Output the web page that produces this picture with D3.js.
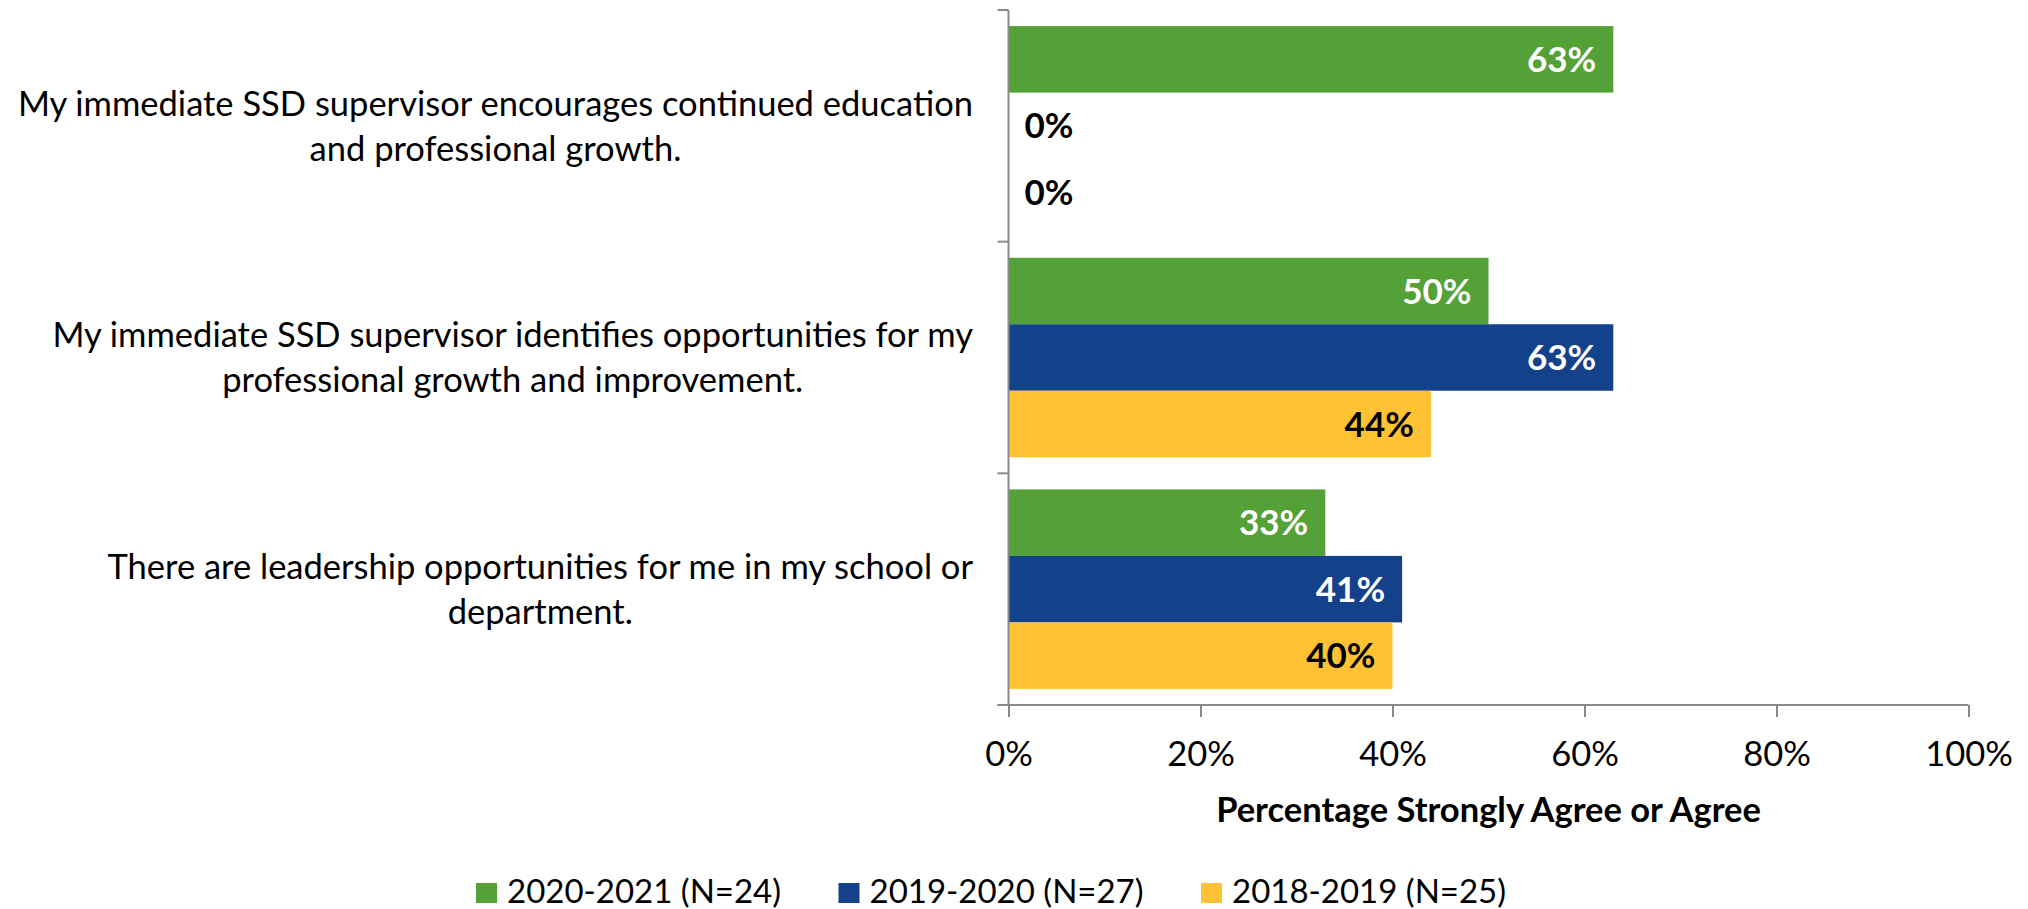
<!DOCTYPE html>
<html lang="en">
    <head>
        <meta charset="utf-8">
        <title>Professional Growth</title>
        <script src="https://d3js.org/d3.v7.min.js"></script>
        <style type="text/css">
                body {
                    margin: 0;
                    background: #fff;
                }
                text {
                    font-family: Lato, "Open Sans", sans-serif;
                    fill: #000;
                }
                .axis line,
                .axis path {
                    stroke: #898989;
                    stroke-width: 2;
                    fill: none;
                }
                .axis text {
                    font-size: 34.5px;
                }
         </style>
    </head>
    <body>
        <script type="text/javascript">
        var w = 2028;
        var h = 909;

        // questions, top to bottom (\n = where the original wraps)
        var categories = [
            "My immediate SSD supervisor encourages continued education\nand professional growth.",
            "My immediate SSD supervisor identifies opportunities for my\nprofessional growth and improvement.",
            "There are leadership opportunities for me in my school or\ndepartment."
        ];
        var seriesNames = ["2020-2021 (N=24)", "2019-2020 (N=27)", "2018-2019 (N=25)"];
        var seriesColors = ["#54A138", "#13418A", "#FFC232"];
        var labelColors = ["#fff", "#fff", "#000"];
        var values2021 = [0.63, 0.50, 0.33];
        var values2020 = [0.00, 0.63, 0.41];
        var values2019 = [0.00, 0.44, 0.40];
        var xTicks = [0, 0.2, 0.4, 0.6, 0.8, 1];

        var allValues = [values2021, values2020, values2019];

        var svg = d3.select("body")
                .append("svg")
                .attr("width", w)
                .attr("height", h);

        svg.append("rect").attr("width", w).attr("height", h).attr("fill", "#fff");

        var x = d3.scaleLinear().domain([0, 1]).range([1008.5, 1968.5]);
        var y0 = d3.scaleBand().domain(d3.range(categories.length)).range([10, 705]).padding(0);
        var y1 = d3.scaleBand().domain(d3.range(seriesNames.length))
                .range([0, y0.bandwidth()]).paddingInner(0).paddingOuter(0.242);

        // bars
        var rows = [];
        categories.forEach(function(c, ci) {
            allValues.forEach(function(vals, si) {
                rows.push({ci: ci, si: si, v: vals[ci]});
            });
        });

        svg.selectAll("rect.bar")
            .data(rows)
            .enter()
            .append("rect")
            .attr("class", "bar")
            .attr("x", x(0))
            .attr("y", function(d) { return y0(d.ci) + y1(d.si); })
            .attr("width", function(d) { return x(d.v) - x(0); })
            .attr("height", y1.bandwidth())
            .attr("fill", function(d) { return seriesColors[d.si]; });

        // value labels
        svg.selectAll("text.val")
            .data(rows)
            .enter()
            .append("text")
            .attr("class", "val")
            .text(function(d) { return Math.round(d.v * 100) + "%"; })
            .attr("x", function(d) { return d.v > 0 ? x(d.v) - 17 : x(0) + 16; })
            .attr("y", function(d) { return y0(d.ci) + y1(d.si) + y1.bandwidth() / 2; })
            .attr("dy", "0.36em")
            .attr("text-anchor", function(d) { return d.v > 0 ? "end" : "start"; })
            .style("font-size", "35px")
            .style("font-weight", "bold")
            .style("fill", function(d) { return d.v > 0 ? labelColors[d.si] : "#000"; });

        // x axis
        var xAxis = d3.axisBottom(x)
                .tickValues(xTicks)
                .tickFormat(d3.format(".0%"))
                .tickSize(12)
                .tickSizeOuter(0);

        var gx = svg.append("g")
                .attr("class", "axis")
                .attr("transform", "translate(0,705)")
                .call(xAxis);
        gx.select(".domain").remove();
        gx.selectAll("text").attr("y", 61).attr("dy", 0);
        gx.append("line")
            .attr("x1", x(0) - 11).attr("x2", x(1))
            .attr("y1", 0).attr("y2", 0);

        // y axis: line plus ticks on category boundaries
        var gy = svg.append("g").attr("class", "axis");
        gy.append("line")
            .attr("x1", x(0)).attr("x2", x(0))
            .attr("y1", y0.range()[0]).attr("y2", y0.range()[1]);
        var bounds = y0.domain().map(function(d) { return y0(d); }).concat([y0.range()[1]]);
        gy.selectAll("line.tick")
            .data(bounds)
            .enter()
            .append("line")
            .attr("class", "tick")
            .attr("x1", x(0) - 11).attr("x2", x(0))
            .attr("y1", function(d) { return d; })
            .attr("y2", function(d) { return d; });

        // category labels, lines centred on each other, block right-aligned
        var lineGap = 45;
        var labelRight = 973;
        svg.selectAll("text.cat")
            .data(categories)
            .enter()
            .append("text")
            .attr("class", "cat")
            .attr("text-anchor", "middle")
            .style("font-size", "34.5px")
            .each(function(d, i) {
                var lines = d.split("\n");
                var cy = y0(i) + y0.bandwidth() / 2;
                var t = d3.select(this);
                var spans = lines.map(function(l, li) {
                    return t.append("tspan")
                        .attr("y", cy + (li - (lines.length - 1) / 2) * lineGap)
                        .attr("dy", "0.36em")
                        .text(l);
                });
                var maxLen = d3.max(spans, function(s) { return s.node().getComputedTextLength(); });
                spans.forEach(function(s) { s.attr("x", labelRight - maxLen / 2); });
            });

        // axis title
        svg.append("text")
            .attr("x", (x(0) + x(1)) / 2)
            .attr("y", 822)
            .attr("text-anchor", "middle")
            .style("font-size", "34.5px")
            .style("font-weight", "bold")
            .text("Percentage Strongly Agree or Agree");

        // legend
        var legend = svg.selectAll("g.legend")
                .data(seriesNames)
                .enter()
                .append("g")
                .attr("class", "legend")
                .attr("transform", function(d, i) { return "translate(" + (476 + i * 362.5) + ",883)"; });
        legend.append("rect")
            .attr("width", 21)
            .attr("height", 20)
            .attr("fill", function(d, i) { return seriesColors[i]; });
        legend.append("text")
            .attr("x", 31)
            .attr("y", 20)
            .style("font-size", "33px")
            .text(function(d) { return d; });
        </script>
    </body>
</html>
